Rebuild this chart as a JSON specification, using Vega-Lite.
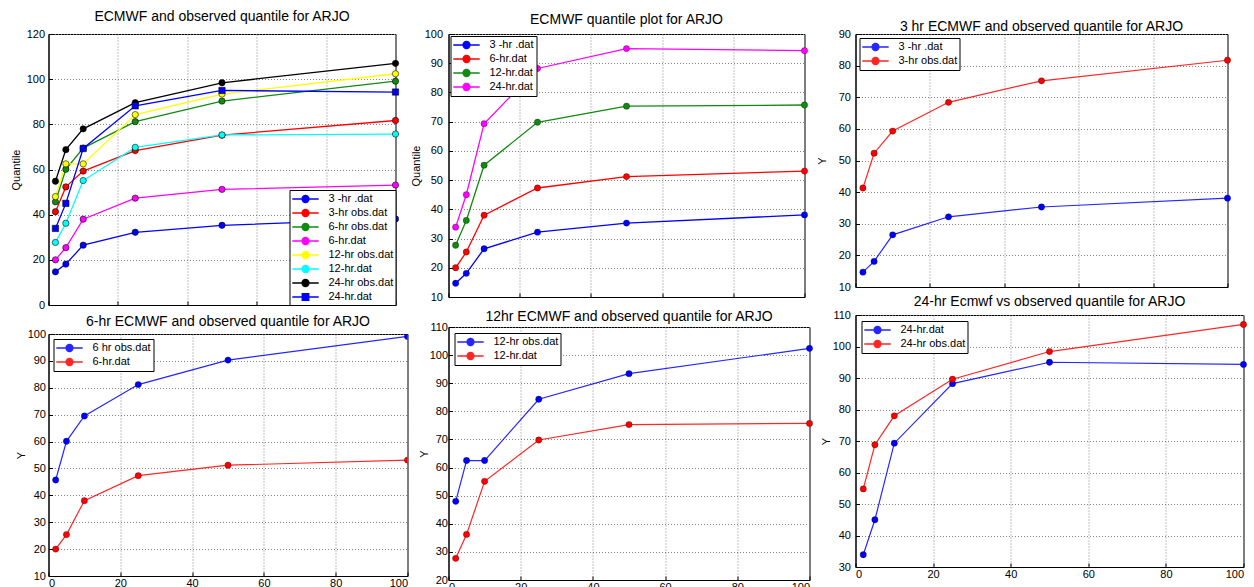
{
  "$schema": "https://vega.github.io/schema/vega-lite/v6.json",
  "background": "white",
  "padding": {"left": 9.5, "top": 9, "right": 0, "bottom": 0},
  "columns": 3,
  "align": "none",
  "spacing": 1,
  "config": {
    "font": "Liberation Sans",
    "view": {"stroke": "#000", "strokeWidth": 1},
    "title": {"fontSize": 14, "fontWeight": "normal", "font": "Liberation Sans", "color": "#000"},
    "axis": {
      "domainColor": "#000", "tickColor": "#000", "tickSize": -4,
      "labelFontSize": 11, "labelColor": "#000", "labelFont": "Liberation Sans",
      "titleFontSize": 11, "titleFontWeight": "normal", "titleColor": "#000", "titleFont": "Liberation Sans",
      "gridColor": "#777", "gridDash": [1, 2], "gridWidth": 1, "gridOpacity": 0.9
    },
    "axisY": {"labelPadding": 8},
    "axisX": {"labelPadding": 5},
    "legend": {
      "strokeColor": "#000", "fillColor": "#fff", "padding": 2, "labelFontSize": 11,
      "labelFont": "Liberation Sans", "labelColor": "#000", "rowPadding": 0, "labelOffset": 16,
      "symbolOffset": 7, "symbolStrokeWidth": 1.3
    }
  },
  "datasets": {
    "p1": [
      {"series": "3 -hr .dat", "x": 2, "y": 14.7}, {"series": "3 -hr .dat", "x": 5, "y": 18.1}, {"series": "3 -hr .dat", "x": 10, "y": 26.5}, {"series": "3 -hr .dat", "x": 25, "y": 32.2}, {"series": "3 -hr .dat", "x": 50, "y": 35.3}, {"series": "3 -hr .dat", "x": 100, "y": 38.1},
      {"series": "3-hr obs.dat", "x": 2, "y": 41.3}, {"series": "3-hr obs.dat", "x": 5, "y": 52.3}, {"series": "3-hr obs.dat", "x": 10, "y": 59.3}, {"series": "3-hr obs.dat", "x": 25, "y": 68.4}, {"series": "3-hr obs.dat", "x": 50, "y": 75.2}, {"series": "3-hr obs.dat", "x": 100, "y": 81.7},
      {"series": "6-hr obs.dat", "x": 2, "y": 45.7}, {"series": "6-hr obs.dat", "x": 5, "y": 60.1}, {"series": "6-hr obs.dat", "x": 10, "y": 69.5}, {"series": "6-hr obs.dat", "x": 25, "y": 81.2}, {"series": "6-hr obs.dat", "x": 50, "y": 90.3}, {"series": "6-hr obs.dat", "x": 100, "y": 99.1},
      {"series": "6-hr.dat", "x": 2, "y": 20.0}, {"series": "6-hr.dat", "x": 5, "y": 25.4}, {"series": "6-hr.dat", "x": 10, "y": 38.0}, {"series": "6-hr.dat", "x": 25, "y": 47.3}, {"series": "6-hr.dat", "x": 50, "y": 51.2}, {"series": "6-hr.dat", "x": 100, "y": 53.1},
      {"series": "12-hr obs.dat", "x": 2, "y": 48.0}, {"series": "12-hr obs.dat", "x": 5, "y": 62.5}, {"series": "12-hr obs.dat", "x": 10, "y": 62.5}, {"series": "12-hr obs.dat", "x": 25, "y": 84.3}, {"series": "12-hr obs.dat", "x": 50, "y": 93.4}, {"series": "12-hr obs.dat", "x": 100, "y": 102.4},
      {"series": "12-hr.dat", "x": 2, "y": 27.7}, {"series": "12-hr.dat", "x": 5, "y": 36.2}, {"series": "12-hr.dat", "x": 10, "y": 55.1}, {"series": "12-hr.dat", "x": 25, "y": 69.8}, {"series": "12-hr.dat", "x": 50, "y": 75.3}, {"series": "12-hr.dat", "x": 100, "y": 75.7},
      {"series": "24-hr obs.dat", "x": 2, "y": 54.8}, {"series": "24-hr obs.dat", "x": 5, "y": 68.8}, {"series": "24-hr obs.dat", "x": 10, "y": 78.0}, {"series": "24-hr obs.dat", "x": 25, "y": 89.6}, {"series": "24-hr obs.dat", "x": 50, "y": 98.4}, {"series": "24-hr obs.dat", "x": 100, "y": 107.0},
      {"series": "24-hr.dat", "x": 2, "y": 33.9}, {"series": "24-hr.dat", "x": 5, "y": 45.0}, {"series": "24-hr.dat", "x": 10, "y": 69.3}, {"series": "24-hr.dat", "x": 25, "y": 88.2}, {"series": "24-hr.dat", "x": 50, "y": 95.0}, {"series": "24-hr.dat", "x": 100, "y": 94.3}
    ],
    "p2": [
      {"series": "3 -hr .dat", "x": 2, "y": 14.7}, {"series": "3 -hr .dat", "x": 5, "y": 18.1}, {"series": "3 -hr .dat", "x": 10, "y": 26.5}, {"series": "3 -hr .dat", "x": 25, "y": 32.2}, {"series": "3 -hr .dat", "x": 50, "y": 35.3}, {"series": "3 -hr .dat", "x": 100, "y": 38.1},
      {"series": "6-hr.dat", "x": 2, "y": 20.0}, {"series": "6-hr.dat", "x": 5, "y": 25.4}, {"series": "6-hr.dat", "x": 10, "y": 38.0}, {"series": "6-hr.dat", "x": 25, "y": 47.3}, {"series": "6-hr.dat", "x": 50, "y": 51.2}, {"series": "6-hr.dat", "x": 100, "y": 53.1},
      {"series": "12-hr.dat", "x": 2, "y": 27.7}, {"series": "12-hr.dat", "x": 5, "y": 36.2}, {"series": "12-hr.dat", "x": 10, "y": 55.1}, {"series": "12-hr.dat", "x": 25, "y": 69.8}, {"series": "12-hr.dat", "x": 50, "y": 75.3}, {"series": "12-hr.dat", "x": 100, "y": 75.7},
      {"series": "24-hr.dat", "x": 2, "y": 33.9}, {"series": "24-hr.dat", "x": 5, "y": 45.0}, {"series": "24-hr.dat", "x": 10, "y": 69.3}, {"series": "24-hr.dat", "x": 25, "y": 88.2}, {"series": "24-hr.dat", "x": 50, "y": 95.0}, {"series": "24-hr.dat", "x": 100, "y": 94.3}
    ],
    "p3": [
      {"series": "3 -hr .dat", "x": 2, "y": 14.7}, {"series": "3 -hr .dat", "x": 5, "y": 18.1}, {"series": "3 -hr .dat", "x": 10, "y": 26.5}, {"series": "3 -hr .dat", "x": 25, "y": 32.2}, {"series": "3 -hr .dat", "x": 50, "y": 35.3}, {"series": "3 -hr .dat", "x": 100, "y": 38.1},
      {"series": "3-hr obs.dat", "x": 2, "y": 41.3}, {"series": "3-hr obs.dat", "x": 5, "y": 52.3}, {"series": "3-hr obs.dat", "x": 10, "y": 59.3}, {"series": "3-hr obs.dat", "x": 25, "y": 68.4}, {"series": "3-hr obs.dat", "x": 50, "y": 75.2}, {"series": "3-hr obs.dat", "x": 100, "y": 81.7}
    ],
    "p4": [
      {"series": "6 hr obs.dat", "x": 2, "y": 45.7}, {"series": "6 hr obs.dat", "x": 5, "y": 60.1}, {"series": "6 hr obs.dat", "x": 10, "y": 69.5}, {"series": "6 hr obs.dat", "x": 25, "y": 81.2}, {"series": "6 hr obs.dat", "x": 50, "y": 90.3}, {"series": "6 hr obs.dat", "x": 100, "y": 99.1},
      {"series": "6-hr.dat", "x": 2, "y": 20.0}, {"series": "6-hr.dat", "x": 5, "y": 25.4}, {"series": "6-hr.dat", "x": 10, "y": 38.0}, {"series": "6-hr.dat", "x": 25, "y": 47.3}, {"series": "6-hr.dat", "x": 50, "y": 51.2}, {"series": "6-hr.dat", "x": 100, "y": 53.1}
    ],
    "p5": [
      {"series": "12-hr obs.dat", "x": 2, "y": 48.0}, {"series": "12-hr obs.dat", "x": 5, "y": 62.5}, {"series": "12-hr obs.dat", "x": 10, "y": 62.5}, {"series": "12-hr obs.dat", "x": 25, "y": 84.3}, {"series": "12-hr obs.dat", "x": 50, "y": 93.4}, {"series": "12-hr obs.dat", "x": 100, "y": 102.4},
      {"series": "12-hr.dat", "x": 2, "y": 27.7}, {"series": "12-hr.dat", "x": 5, "y": 36.2}, {"series": "12-hr.dat", "x": 10, "y": 55.1}, {"series": "12-hr.dat", "x": 25, "y": 69.8}, {"series": "12-hr.dat", "x": 50, "y": 75.3}, {"series": "12-hr.dat", "x": 100, "y": 75.7}
    ],
    "p6": [
      {"series": "24-hr.dat", "x": 2, "y": 33.9}, {"series": "24-hr.dat", "x": 5, "y": 45.0}, {"series": "24-hr.dat", "x": 10, "y": 69.3}, {"series": "24-hr.dat", "x": 25, "y": 88.2}, {"series": "24-hr.dat", "x": 50, "y": 95.0}, {"series": "24-hr.dat", "x": 100, "y": 94.3},
      {"series": "24-hr obs.dat", "x": 2, "y": 54.8}, {"series": "24-hr obs.dat", "x": 5, "y": 68.8}, {"series": "24-hr obs.dat", "x": 10, "y": 78.0}, {"series": "24-hr obs.dat", "x": 25, "y": 89.6}, {"series": "24-hr obs.dat", "x": 50, "y": 98.4}, {"series": "24-hr obs.dat", "x": 100, "y": 107.0}
    ]
  },
  "resolve": {"scale": {"x": "independent", "y": "independent", "color": "independent"}, "legend": {"color": "independent"}},
  "concat": [
    {
      "columns": 1, "align": "none", "spacing": 3,
      "resolve": {"scale": {"x": "independent", "y": "independent", "color": "independent"}, "legend": {"color": "independent"}},
      "concat": [
        {
          "width": 347, "height": 271,
          "title": {"text": "ECMWF and observed quantile for ARJO", "offset": 4},
          "data": {"name": "p1"},
          "encoding": {
            "x": {"field": "x", "type": "quantitative", "scale": {"domain": [0, 100], "nice": false}, "axis": {"values": [0, 20, 40, 60, 80, 100], "labels": false, "title": null}},
            "y": {"field": "y", "type": "quantitative", "scale": {"domain": [0, 120], "nice": false, "zero": false}, "axis": {"values": [0, 20, 40, 60, 80, 100, 120], "title": "Quantile", "titlePadding": 5}},
            "color": {"field": "series", "type": "nominal",
              "scale": {"domain": ["3 -hr .dat", "3-hr obs.dat", "6-hr obs.dat", "6-hr.dat", "12-hr obs.dat", "12-hr.dat", "24-hr obs.dat", "24-hr.dat"], "range": ["#0000ff", "#ff0000", "#108a10", "#ff00ff", "#ffff00", "#00ffff", "#000000", "#0000ff"]},
              "legend": {"title": null, "orient": "bottom-right", "offset": 0, "symbolSize": 144,
                "symbolType": "M-2.2,0H2.2M-0.58,0A0.58,0.58,0,1,1,0.58,0A0.58,0.58,0,1,1,-0.58,0Z",
                "encode": {"symbols": {"update": {"shape": {"signal": "datum.value === '24-hr.dat' ? 'M-2.2,0H2.2M-0.55,-0.55H0.55V0.55H-0.55Z' : 'M-2.2,0H2.2M-0.58,0A0.58,0.58,0,1,1,0.58,0A0.58,0.58,0,1,1,-0.58,0Z'"}}}}}}
          },
          "layer": [
            {"mark": {"type": "line", "strokeWidth": 1.3}},
            {"mark": {"type": "point", "filled": true, "size": 40, "opacity": 1, "stroke": "#000", "strokeWidth": 0.8, "strokeOpacity": 0.7},
             "encoding": {"shape": {"condition": {"test": "datum.series === '24-hr.dat'", "value": "square"}, "value": "circle"}}}
          ]
        },
        {
          "width": 359, "height": 242,
          "title": {"text": "6-hr ECMWF and observed quantile for ARJO", "offset": -1},
          "data": {"name": "p4"},
          "encoding": {
            "x": {"field": "x", "type": "quantitative", "scale": {"domain": [0, 100], "nice": false}, "axis": {"values": [0, 20, 40, 60, 80, 100], "labelFlush": true, "title": null}},
            "y": {"field": "y", "type": "quantitative", "scale": {"domain": [10, 100], "nice": false, "zero": false}, "axis": {"values": [10, 20, 30, 40, 50, 60, 70, 80, 90, 100], "title": "Y", "titlePadding": 1, "labelPadding": 7}},
            "color": {"field": "series", "type": "nominal",
              "scale": {"domain": ["6 hr obs.dat", "6-hr.dat"], "range": ["#0000ff", "#ff0000"]},
              "legend": {"title": null, "orient": "top-left", "offset": 5, "symbolSize": 144,
                "symbolType": "M-2.2,0H2.2M-0.58,0A0.58,0.58,0,1,1,0.58,0A0.58,0.58,0,1,1,-0.58,0Z"}}
          },
          "layer": [
            {"mark": {"type": "line", "strokeWidth": 1.2, "opacity": 0.85, "clip": true}},
            {"mark": {"type": "point", "filled": true, "size": 40, "opacity": 1, "stroke": "#000", "strokeWidth": 0.6, "strokeOpacity": 0.5, "clip": true}}
          ]
        }
      ]
    },
    {
      "columns": 1, "align": "none", "spacing": 6,
      "resolve": {"scale": {"x": "independent", "y": "independent", "color": "independent"}, "legend": {"color": "independent"}},
      "concat": [
        {
          "width": 356, "height": 263,
          "title": {"text": "ECMWF quantile plot for ARJO", "offset": 1},
          "data": {"name": "p2"},
          "encoding": {
            "x": {"field": "x", "type": "quantitative", "scale": {"domain": [0, 100], "nice": false}, "axis": {"values": [0, 20, 40, 60, 80, 100], "labels": false, "title": null}},
            "y": {"field": "y", "type": "quantitative", "scale": {"domain": [10, 100], "nice": false, "zero": false}, "axis": {"values": [10, 20, 30, 40, 50, 60, 70, 80, 90, 100], "title": "Quantile", "titlePadding": 2.6, "labelPadding": 10}},
            "color": {"field": "series", "type": "nominal",
              "scale": {"domain": ["3 -hr .dat", "6-hr.dat", "12-hr.dat", "24-hr.dat"], "range": ["#0000ff", "#ff0000", "#108a10", "#ff00ff"]},
              "legend": {"title": null, "orient": "top-left", "offset": 2, "symbolSize": 144,
                "symbolType": "M-2.2,0H2.2M-0.58,0A0.58,0.58,0,1,1,0.58,0A0.58,0.58,0,1,1,-0.58,0Z"}}
          },
          "layer": [
            {"mark": {"type": "line", "strokeWidth": 1.3}},
            {"mark": {"type": "point", "filled": true, "size": 40, "opacity": 1, "stroke": "#000", "strokeWidth": 0.6, "strokeOpacity": 0.5}}
          ]
        },
        {
          "width": 361, "height": 253,
          "title": {"text": "12hr ECMWF and observed quantile for ARJO", "offset": -3},
          "data": {"name": "p5"},
          "encoding": {
            "x": {"field": "x", "type": "quantitative", "scale": {"domain": [0, 100], "nice": false}, "axis": {"values": [0, 20, 40, 60, 80, 100], "labelFlush": true, "title": null}},
            "y": {"field": "y", "type": "quantitative", "scale": {"domain": [20, 110], "nice": false, "zero": false}, "axis": {"values": [20, 30, 40, 50, 60, 70, 80, 90, 100, 110], "title": "Y", "titlePadding": 0, "labelPadding": 5}},
            "color": {"field": "series", "type": "nominal",
              "scale": {"domain": ["12-hr obs.dat", "12-hr.dat"], "range": ["#0000ff", "#ff0000"]},
              "legend": {"title": null, "orient": "top-left", "offset": 6, "symbolSize": 144,
                "symbolType": "M-2.2,0H2.2M-0.58,0A0.58,0.58,0,1,1,0.58,0A0.58,0.58,0,1,1,-0.58,0Z"}}
          },
          "layer": [
            {"mark": {"type": "line", "strokeWidth": 1.2, "opacity": 0.85}},
            {"mark": {"type": "point", "filled": true, "size": 40, "opacity": 1, "stroke": "#000", "strokeWidth": 0.6, "strokeOpacity": 0.5}}
          ]
        }
      ]
    },
    {
      "columns": 1, "align": "none", "spacing": 1,
      "resolve": {"scale": {"x": "independent", "y": "independent", "color": "independent"}, "legend": {"color": "independent"}},
      "concat": [
        {
          "width": 372, "height": 253,
          "title": {"text": "3 hr ECMWF and observed quantile for ARJO", "offset": -6},
          "data": {"name": "p3"},
          "encoding": {
            "x": {"field": "x", "type": "quantitative", "scale": {"domain": [0, 100], "nice": false}, "axis": {"values": [0, 20, 40, 60, 80, 100], "labels": false, "title": null}},
            "y": {"field": "y", "type": "quantitative", "scale": {"domain": [10, 90], "nice": false, "zero": false}, "axis": {"values": [10, 20, 30, 40, 50, 60, 70, 80, 90], "title": "Y", "titlePadding": 11, "labelPadding": 9}},
            "color": {"field": "series", "type": "nominal",
              "scale": {"domain": ["3 -hr .dat", "3-hr obs.dat"], "range": ["#0000ff", "#ff0000"]},
              "legend": {"title": null, "orient": "top-left", "offset": 4, "symbolSize": 144,
                "symbolType": "M-2.2,0H2.2M-0.58,0A0.58,0.58,0,1,1,0.58,0A0.58,0.58,0,1,1,-0.58,0Z"}}
          },
          "layer": [
            {"mark": {"type": "line", "strokeWidth": 1.2, "opacity": 0.85}},
            {"mark": {"type": "point", "filled": true, "size": 40, "opacity": 1, "stroke": "#000", "strokeWidth": 0.6, "strokeOpacity": 0.5}}
          ]
        },
        {
          "width": 388, "height": 252,
          "title": {"text": "24-hr Ecmwf vs observed quantile for ARJO", "offset": 0},
          "data": {"name": "p6"},
          "encoding": {
            "x": {"field": "x", "type": "quantitative", "scale": {"domain": [0, 100], "nice": false}, "axis": {"values": [0, 20, 40, 60, 80, 100], "labelFlush": true, "title": null}},
            "y": {"field": "y", "type": "quantitative", "scale": {"domain": [30, 110], "nice": false, "zero": false}, "axis": {"values": [30, 40, 50, 60, 70, 80, 90, 100, 110], "title": "Y", "titlePadding": 1, "labelPadding": 9}},
            "color": {"field": "series", "type": "nominal",
              "scale": {"domain": ["24-hr.dat", "24-hr obs.dat"], "range": ["#0000ff", "#ff0000"]},
              "legend": {"title": null, "orient": "top-left", "offset": 6, "symbolSize": 144,
                "symbolType": "M-2.2,0H2.2M-0.58,0A0.58,0.58,0,1,1,0.58,0A0.58,0.58,0,1,1,-0.58,0Z"}}
          },
          "layer": [
            {"mark": {"type": "line", "strokeWidth": 1.2, "opacity": 0.85}},
            {"mark": {"type": "point", "filled": true, "size": 40, "opacity": 1, "stroke": "#000", "strokeWidth": 0.6, "strokeOpacity": 0.5}}
          ]
        }
      ]
    }
  ]
}
